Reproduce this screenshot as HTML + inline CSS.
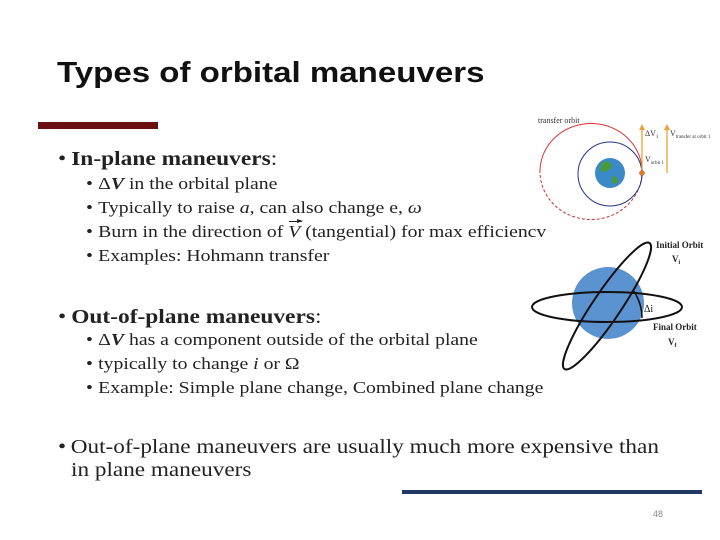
<!DOCTYPE html>
<html><head><meta charset="utf-8"><style>
body{margin:0;width:720px;height:540px;background:#fff;position:relative;overflow:hidden;font-family:"Liberation Serif",serif;color:#222}
.t{position:absolute;white-space:nowrap;line-height:1;transform-origin:0 0}
.l1{font-size:19.5px;left:58px;transform:scaleX(1.2)}
.l2{font-size:17px;left:86px;transform:scaleX(1.16)}
.l3{font-size:20px;left:58px;transform:scaleX(1.16)}
.b{display:inline-block;width:11px}
.l2 .b{width:10.5px}
.vec{position:relative;display:inline-block}
.vec:before{content:"";position:absolute;left:1px;right:-1px;top:-2px;border-top:1px solid #222}
.vec:after{content:"";position:absolute;right:-2px;top:-4.5px;border-left:5px solid #222;border-top:2.5px solid transparent;border-bottom:2.5px solid transparent}
</style></head><body>
<div class="t" style="left:57px;top:59px;font-family:'Liberation Sans',sans-serif;font-weight:bold;font-size:29px;color:#111;transform:scaleX(1.14)">Types of orbital maneuvers</div>
<div style="position:absolute;left:38px;top:122px;width:120px;height:7px;background:#6b1010"></div>

<div class="t l1" style="top:150px"><span class="b">•</span><b>In-plane maneuvers</b>:</div>
<div class="t l2" style="top:175px"><span class="b">•</span>Δ<b><i>V</i></b> in the orbital plane</div>
<div class="t l2" style="top:199px"><span class="b">•</span>Typically to raise <i>a</i>, can also change e, <i>ω</i></div>
<div class="t l2" style="top:223px"><span class="b">•</span>Burn in the direction of <i class="vec">V</i> (tangential) for max efficiencv</div>
<div class="t l2" style="top:247px"><span class="b">•</span>Examples: Hohmann transfer</div>

<div class="t l1" style="top:308px"><span class="b">•</span><b>Out-of-plane maneuvers</b>:</div>
<div class="t l2" style="top:331px"><span class="b">•</span>Δ<b><i>V</i></b> has a component outside of the orbital plane</div>
<div class="t l2" style="top:355px"><span class="b">•</span>typically to change <i>i</i> or Ω</div>
<div class="t l2" style="top:379px"><span class="b">•</span>Example: Simple plane change, Combined plane change</div>

<div class="t l3" style="top:437px"><span class="b">•</span>Out-of-plane maneuvers are usually much more expensive than</div>
<div class="t l3" style="top:460px;left:71px">in plane maneuvers</div>

<div style="position:absolute;left:402px;top:490px;width:300px;height:4px;background:#1f3864"></div>
<div class="t" style="left:653px;top:510px;font-size:9px;color:#888;font-family:'Liberation Sans',sans-serif">48</div>

<svg width="720" height="540" style="position:absolute;left:0;top:0" font-family="Liberation Serif,serif">
 <path d="M642,173 A51,48 0 1 0 540,170" fill="none" stroke="#d33" stroke-width="1"/>
 <path d="M540,170 A51,48 0 0 0 642,173" fill="none" stroke="#c33" stroke-width="1" stroke-dasharray="3,2"/>
 <circle cx="610" cy="174" r="32" fill="none" stroke="#223388" stroke-width="1"/>
 <circle cx="610" cy="173" r="15" fill="#3a8ac8"/>
 <path d="M602,163 q6,-4 10,2 q-2,6 -6,6 q-4,3 -6,-2z M612,176 q5,0 6,6 q-4,4 -6,-1z" fill="#4a9a3a"/>
 <line x1="642" y1="173" x2="642" y2="127" stroke="#f0a030" stroke-width="1.3"/>
 <path d="M639,130 L642,124 L645,130z" fill="#f0a030"/>
 <line x1="667" y1="173" x2="667" y2="127" stroke="#f0a030" stroke-width="1.3"/>
 <path d="M664,130 L667,124 L670,130z" fill="#f0a030"/>
 <circle cx="642" cy="173" r="2.5" fill="#e08020" stroke="#844" stroke-width="0.5"/>
 <text x="538" y="123" font-size="8" fill="#333">transfer orbit</text>
 <text x="645" y="136" font-size="8" fill="#333">ΔV<tspan font-size="5" dy="2">1</tspan></text>
 <text x="645" y="162" font-size="8" fill="#333">V<tspan font-size="5" dy="2">orbit 1</tspan></text>
 <text x="670" y="136" font-size="8" fill="#333">V<tspan font-size="5" dy="2">transfer at orbit 1</tspan></text>
</svg>
<svg width="720" height="540" style="position:absolute;left:0;top:0" font-family="Liberation Serif,serif">
 <circle cx="608" cy="303" r="36" fill="#5b92d0"/>
 <ellipse cx="607" cy="307" rx="75" ry="15" fill="none" stroke="#111" stroke-width="2"/>
 <ellipse cx="607" cy="306" rx="76" ry="14" transform="rotate(-56 607 306)" fill="none" stroke="#111" stroke-width="2"/>
 <path d="M633,290 Q642,303 642,318" fill="none" stroke="#111" stroke-width="1.5"/>
 <text x="644" y="312" font-size="10" fill="#111">Δi</text>
 <text x="656" y="248" font-size="9" font-weight="bold" fill="#222">Initial  Orbit</text>
 <text x="672" y="262" font-size="9" font-weight="bold" fill="#222">V<tspan font-size="6" dy="2">i</tspan></text>
 <text x="653" y="330" font-size="9" font-weight="bold" fill="#222">Final Orbit</text>
 <text x="668" y="345" font-size="9" font-weight="bold" fill="#222">V<tspan font-size="6" dy="2">f</tspan></text>
</svg>
</body></html>
